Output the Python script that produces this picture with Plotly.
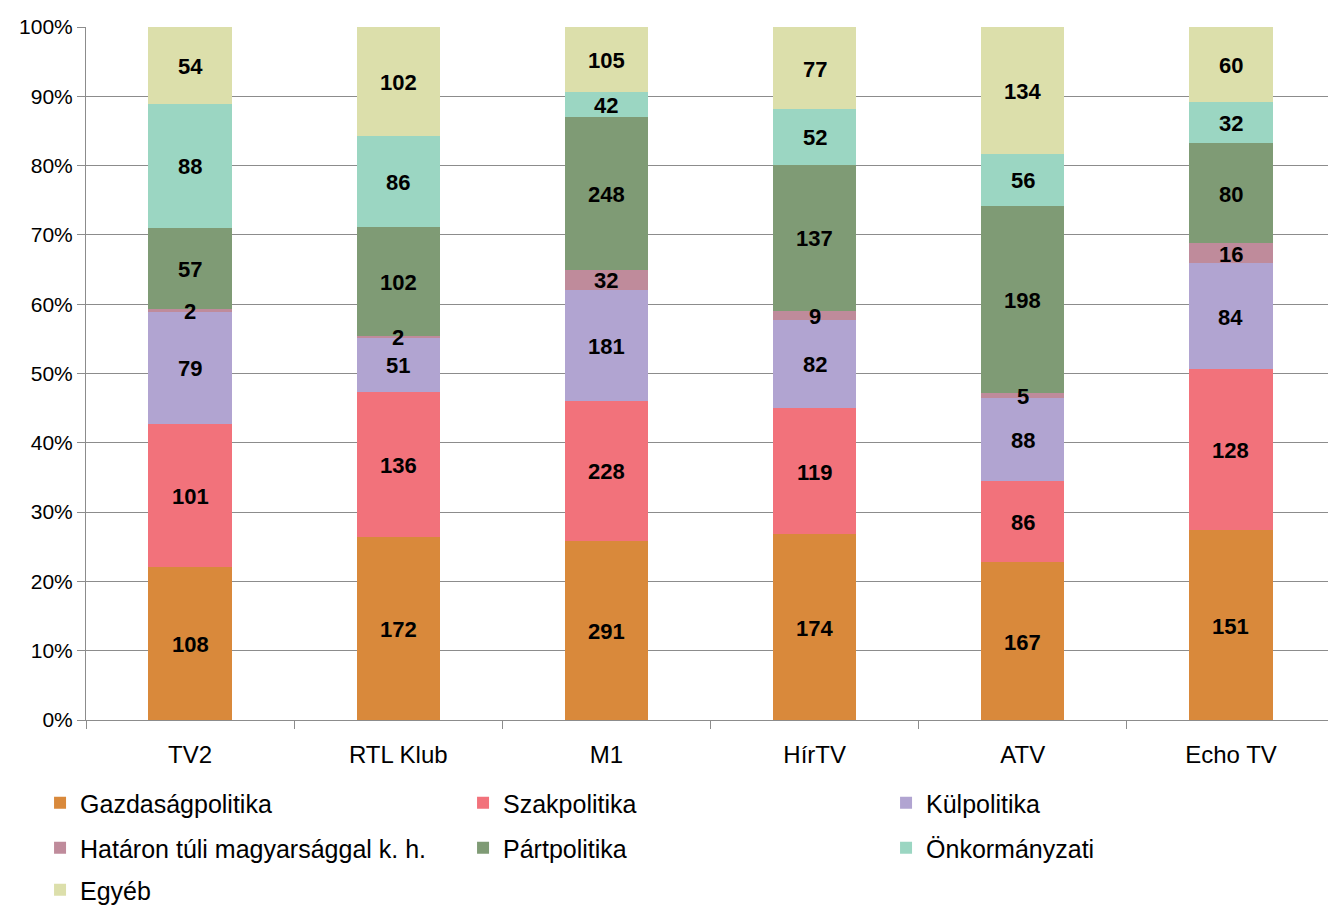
import plotly.graph_objects as go

channels = ["TV2", "RTL Klub", "M1", "HírTV", "ATV", "Echo TV"]
gazdasag = [108, 172, 291, 174, 167, 151]
szak = [101, 136, 228, 119, 86, 128]
kul = [79, 51, 181, 82, 88, 84]
hatar = [2, 2, 32, 9, 5, 16]
part = [57, 102, 248, 137, 198, 80]
onkorm = [88, 86, 42, 52, 56, 32]
egyeb = [54, 102, 105, 77, 134, 60]

series = [
    ("Gazdaságpolitika", gazdasag, "#D9893B", "legend"),
    ("Szakpolitika", szak, "#F2727B", "legend"),
    ("Külpolitika", kul, "#B1A4D1", "legend"),
    ("Határon túli magyarsággal k. h.", hatar, "#BF8B9B", "legend2"),
    ("Pártpolitika", part, "#7F9B75", "legend2"),
    ("Önkormányzati", onkorm, "#9BD6C2", "legend2"),
    ("Egyéb", egyeb, "#DCDFAB", "legend3"),
]

totals = [sum(s[1][i] for s in series) for i in range(len(channels))]

fig = go.Figure()
label_x, label_y, label_t = [], [], []
base = [0.0] * len(channels)
for name, vals, col, leg in series:
    pct = [v / t * 100 for v, t in zip(vals, totals)]
    fig.add_trace(go.Bar(
        x=channels, y=pct, name=name, legend=leg,
        marker=dict(color=col, line=dict(width=0)),
        width=0.40, hoverinfo="skip",
    ))
    for i, p in enumerate(pct):
        label_x.append(channels[i])
        label_y.append(base[i] + p / 2)
        label_t.append(str(vals[i]))
        base[i] += p

for xv, yv, tv in zip(label_x, label_y, label_t):
    fig.add_annotation(
        x=xv, y=yv, text=tv, showarrow=False, yshift=-1,
        xanchor="center", yanchor="middle",
        font=dict(family="Liberation Sans, Arial", size=22, color="black", weight="bold"),
    )

PLOT_TOP, PLOT_BOTTOM = 27, 720
ph = PLOT_BOTTOM - PLOT_TOP


def leg_y(px):
    return (PLOT_BOTTOM - px) / ph


legend_common = dict(
    orientation="h", x=-0.037, xanchor="left", yanchor="middle",
    entrywidth=378, entrywidthmode="pixels", traceorder="normal",
    font=dict(family="Liberation Sans, Arial", size=25, color="black"),
    itemwidth=30, bgcolor="rgba(0,0,0,0)",
)

fig.update_layout(
    barmode="stack",
    width=1328, height=905,
    margin=dict(l=86, r=0, t=PLOT_TOP, b=905 - PLOT_BOTTOM, autoexpand=False),
    paper_bgcolor="white", plot_bgcolor="white",
    font=dict(family="Liberation Sans, Arial", size=22, color="black"),
    xaxis=dict(
        type="category", range=[-0.5, 5.466], tickson="boundaries",
        ticks="outside", ticklen=8, tickcolor="#8C8C8C",
        showline=True, linecolor="#8C8C8C", linewidth=1,
        showgrid=False, tickfont=dict(size=24), ticklabelstandoff=13,
    ),
    yaxis=dict(
        range=[0, 100], tickvals=list(range(0, 101, 10)),
        ticktext=[f"{v}%" for v in range(0, 101, 10)],
        ticks="outside", ticklen=8, tickcolor="#8C8C8C",
        showline=True, linecolor="#8C8C8C", linewidth=1,
        showgrid=True, gridcolor="#8C8C8C", gridwidth=1,
        zeroline=False, tickfont=dict(size=21),
    ),
    legend=dict(legend_common, y=leg_y(803)),
    legend2=dict(legend_common, y=leg_y(848)),
    legend3=dict(legend_common, y=leg_y(890)),
)

fig.write_html("out.html", config={"displayModeBar": False},
               post_script="document.body.style.margin='0px';")
